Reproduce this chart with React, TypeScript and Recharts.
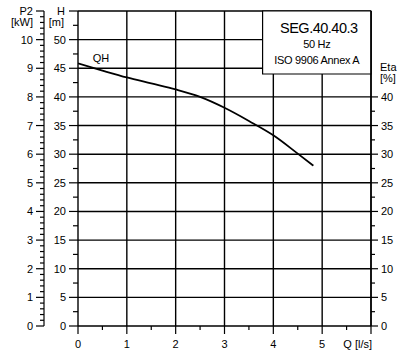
import React from "react";
import {
  ComposedChart,
  Line,
  XAxis,
  YAxis,
  CartesianGrid,
  ReferenceArea,
  ReferenceDot,
} from "recharts";

// QH curve
const flow = [0, 0.5, 1, 1.5, 2, 2.5, 3, 3.5, 4, 4.5, 4.82];
const head = [45.85, 44.6, 43.4, 42.35, 41.3, 40.0, 38.1, 35.8, 33.3, 30.1, 28.0];

const qTicks = [0, 0.5, 1, 1.5, 2, 2.5, 3, 3.5, 4, 4.5, 5, 5.5, 6];
const hTicks = [
  0, 2.5, 5, 7.5, 10, 12.5, 15, 17.5, 20, 22.5, 25, 27.5, 30, 32.5, 35, 37.5,
  40, 42.5, 45, 47.5, 50, 52.5, 55,
];
const etaTicks = [
  0, 2.5, 5, 7.5, 10, 12.5, 15, 17.5, 20, 22.5, 25, 27.5, 30, 32.5, 35, 37.5,
  40, 45,
];
// P2 scale: major every 1 kW, minor every 0.2 kW
const p2Ticks = Array.from({ length: 56 }, (_, i) => Math.round(i * 2) / 10);

const gridQ = [1, 2, 3, 4, 5, 6];
const gridH = [5, 10, 15, 20, 25, 30, 35, 40, 45, 50, 55];

const infoLines = ["SEG.40.40.3", "50 Hz", "ISO 9906 Annex A"];

const data = flow.map((q, i) => ({ q, h: head[i] }));

const FONT = "'Liberation Sans', Arial, sans-serif";
const INK = "#000";

function QTick({ x, y, payload }: any) {
  const v = payload.value;
  const major = Number.isInteger(v);
  let label = null;
  if (major && v < 6) {
    label = (
      <text x={x} y={y + 22} textAnchor="middle" fontSize={11} fontFamily={FONT} fill={INK}>
        {v}
      </text>
    );
  } else if (v === 6) {
    label = (
      <text x={x + 1} y={y + 22} textAnchor="end" fontSize={11} fontFamily={FONT} fill={INK}>
        Q [l/s]
      </text>
    );
  }
  return (
    <g>
      <line x1={x} x2={x} y1={y} y2={y + (major ? 8 : 4)} stroke={INK} strokeWidth={1.2} />
      {label}
    </g>
  );
}

function HTick({ x, y, payload }: any) {
  const v = payload.value;
  const major = v % 5 === 0;
  return (
    <g>
      <line x1={x - (major ? 9 : 5)} x2={x} y1={y} y2={y} stroke={INK} strokeWidth={1.2} />
      {major && v < 55 && (
        <text x={x - 12} y={y + 4} textAnchor="end" fontSize={11} fontFamily={FONT} fill={INK}>
          {v}
        </text>
      )}
      {v === 55 && (
        <g>
          <text x={x - 13} y={y + 4} textAnchor="end" fontSize={11} fontFamily={FONT} fill={INK}>
            H
          </text>
          <text x={x - 14} y={y + 15} textAnchor="end" fontSize={11} fontFamily={FONT} fill={INK}>
            [m]
          </text>
        </g>
      )}
    </g>
  );
}

function P2Tick({ x, y, payload }: any) {
  const v = payload.value;
  const major = Number.isInteger(v);
  return (
    <g>
      <line x1={x - (major ? 8 : 4)} x2={x} y1={y} y2={y} stroke={INK} strokeWidth={1.2} />
      {major && v < 11 && (
        <text x={x - 11} y={y + 4} textAnchor="end" fontSize={11} fontFamily={FONT} fill={INK}>
          {v}
        </text>
      )}
      {v === 11 && (
        <g>
          <text x={x - 11} y={y + 4} textAnchor="end" fontSize={11} fontFamily={FONT} fill={INK}>
            P2
          </text>
          <text x={x - 11} y={y + 15} textAnchor="end" fontSize={11} fontFamily={FONT} fill={INK}>
            [kW]
          </text>
        </g>
      )}
    </g>
  );
}

function EtaTick({ x, y, payload }: any) {
  const v = payload.value;
  if (v === 45) {
    return (
      <g>
        <text x={x + 9} y={y + 3} fontSize={11} fontFamily={FONT} fill={INK}>
          Eta
        </text>
        <text x={x + 9} y={y + 14} fontSize={11} fontFamily={FONT} fill={INK}>
          [%]
        </text>
      </g>
    );
  }
  const major = v % 5 === 0;
  return (
    <g>
      <line x1={x} x2={x + (major ? 7 : 4)} y1={y} y2={y} stroke={INK} strokeWidth={1.2} />
      {major && (
        <text x={x + 10} y={y + 4} fontSize={11} fontFamily={FONT} fill={INK}>
          {v}
        </text>
      )}
    </g>
  );
}

function InfoBox({ viewBox }: any) {
  const { x, y, width } = viewBox;
  const cx = x + width / 2;
  return (
    <g fontFamily={FONT} fill={INK}>
      <text x={cx + 2} y={y + 22} textAnchor="middle" fontSize={14.5} letterSpacing={-0.5}>
        {infoLines[0]}
      </text>
      <text x={cx} y={y + 37} textAnchor="middle" fontSize={11} letterSpacing={-0.3}>
        {infoLines[1]}
      </text>
      <text x={cx} y={y + 53} textAnchor="middle" fontSize={11} letterSpacing={-0.3}>
        {infoLines[2]}
      </text>
    </g>
  );
}

function QHLabel({ viewBox }: any) {
  const { x, y } = viewBox;
  return (
    <text x={x} y={y + 4} textAnchor="middle" fontSize={11} fontFamily={FONT} fill={INK}>
      QH
    </text>
  );
}

export default function App() {
  return (
    <div style={{ position: "absolute", left: 0, top: 0, background: "#fff" }}>
      <ComposedChart
        width={406}
        height={356}
        data={data}
        margin={{ top: 11, right: 0, bottom: 0, left: 0 }}
      >
        <CartesianGrid
          yAxisId="h"
          horizontalValues={gridH}
          verticalValues={gridQ}
          stroke={INK}
          strokeWidth={1.4}
        />
        <XAxis
          dataKey="q"
          type="number"
          domain={[0, 6]}
          ticks={qTicks}
          interval={0}
          height={30}
          tickSize={0}
          tickMargin={0}
          tickLine={false}
          tick={<QTick />}
          axisLine={{ stroke: INK, strokeWidth: 1.4 }}
          allowDataOverflow
        />
        <YAxis
          yAxisId="h"
          type="number"
          domain={[0, 55]}
          ticks={hTicks}
          interval={0}
          width={34}
          tickSize={0}
          tickMargin={0}
          tickLine={false}
          tick={<HTick />}
          axisLine={{ stroke: INK, strokeWidth: 1.4 }}
          allowDataOverflow
        />
        <YAxis
          yAxisId="p2"
          type="number"
          domain={[0, 11]}
          ticks={p2Ticks}
          interval={0}
          width={44}
          tickSize={0}
          tickMargin={0}
          tickLine={false}
          tick={<P2Tick />}
          axisLine={{ stroke: INK, strokeWidth: 1.2 }}
          allowDataOverflow
        />
        <YAxis
          yAxisId="eta"
          orientation="right"
          type="number"
          domain={[0, 55]}
          ticks={etaTicks}
          interval={0}
          width={35}
          tickSize={0}
          tickMargin={0}
          tickLine={false}
          tick={<EtaTick />}
          axisLine={{ stroke: INK, strokeWidth: 1.4 }}
          allowDataOverflow
        />
        <ReferenceArea
          yAxisId="h"
          x1={3.78}
          x2={6}
          y1={44}
          y2={55}
          fill="#fff"
          fillOpacity={1}
          stroke={INK}
          strokeWidth={1.2}
          label={<InfoBox />}
        />
        <Line
          yAxisId="h"
          dataKey="h"
          type="monotone"
          stroke={INK}
          strokeWidth={1.8}
          dot={false}
          isAnimationActive={false}
        />
        <ReferenceDot
          yAxisId="h"
          x={0.47}
          y={46.8}
          r={0}
          fill="none"
          stroke="none"
          label={<QHLabel />}
        />
      </ComposedChart>
    </div>
  );
}
